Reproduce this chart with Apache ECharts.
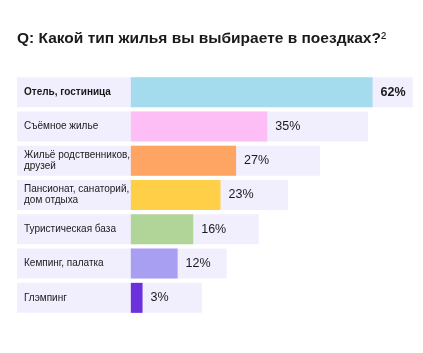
<!DOCTYPE html>
<html>
<head>
<meta charset="utf-8">
<script src="https://cdn.jsdelivr.net/npm/echarts@6/dist/echarts.min.js"></script>
<style>
  html, body { margin: 0; padding: 0; background: #ffffff; }
  #chart { width: 423px; height: 353px; }
</style>
</head>
<body>
<div id="chart"></div>
<script>
// данные
const categories = [
  'Отель, гостиница',
  'Съёмное жилье',
  'Жильё родственников,\nдрузей',
  'Пансионат, санаторий,\nдом отдыха',
  'Туристическая база',
  'Кемпинг, палатка',
  'Глэмпинг'
];
const values = [62, 35, 27, 23, 16, 12, 3];
// длина светлой подложки строки (в единицах оси)
const trackValues = [72.3, 60.8, 48.5, 40.3, 32.8, 24.6, 18.2];
const barColors = ['#a4dcee', '#fdbdf5', '#ffa563', '#ffcf48', '#b1d598', '#a89ff3', '#6b32dc'];

const X_MIN = -29.2;
const X_MAX = 73.4;
const FONT = 'Liberation Sans, Arial, sans-serif';

const chart = echarts.init(document.getElementById('chart'));

const option = {
  backgroundColor: '#ffffff',
  animation: false,
  title: {
    text: '{t|Q: Какой тип жилья вы выбираете в поездках?}{s|²}',
    left: 17,
    top: 31,
    padding: 0,
    textStyle: {
      rich: {
        t: { fontFamily: FONT, fontSize: 15.5, fontWeight: 'bold', color: '#1a1a1a' },
        s: { fontFamily: FONT, fontSize: 15.5, fontWeight: 'normal', color: '#1a1a1a' }
      }
    }
  },
  grid: { left: 17, top: 75, width: 400, height: 240 },
  xAxis: {
    type: 'value',
    min: X_MIN,
    max: X_MAX,
    show: false,
    splitLine: { show: false }
  },
  yAxis: {
    type: 'category',
    inverse: true,
    z: 10,
    data: categories.map((c, i) => i === 0
      ? { value: c, textStyle: { fontWeight: 'bold' } }
      : c),
    axisLine: { show: false },
    axisTick: { show: false },
    axisLabel: {
      inside: true,
      margin: 7,
      padding: [2, 0, 0, 0],
      fontFamily: FONT,
      fontSize: 10,
      lineHeight: 11,
      color: '#1a1a1a'
    }
  },
  series: [
    {
      // подложка строки
      type: 'custom',
      silent: true,
      data: trackValues.map((v, i) => [v, i]),
      encode: { x: 0, y: 1 },
      renderItem: function (params, api) {
        const start = api.coord([X_MIN, api.value(1)]);
        const end = api.coord([api.value(0), api.value(1)]);
        return {
          type: 'rect',
          shape: { x: start[0], y: end[1] - 15, width: end[0] - start[0], height: 30 },
          style: { fill: '#f1eefd' }
        };
      },
      z: 1
    },
    {
      type: 'bar',
      barWidth: 30,
      z: 2,
      data: values.map((v, i) => ({
        value: v,
        itemStyle: { color: barColors[i] },
        label: i === 0 ? { fontWeight: 'bold' } : {}
      })),
      label: {
        show: true,
        position: 'right',
        distance: 8,
        formatter: '{c}%',
        fontFamily: FONT,
        fontSize: 12.5,
        color: '#1a1a1a'
      }
    }
  ]
};

chart.setOption(option);
</script>
</body>
</html>
